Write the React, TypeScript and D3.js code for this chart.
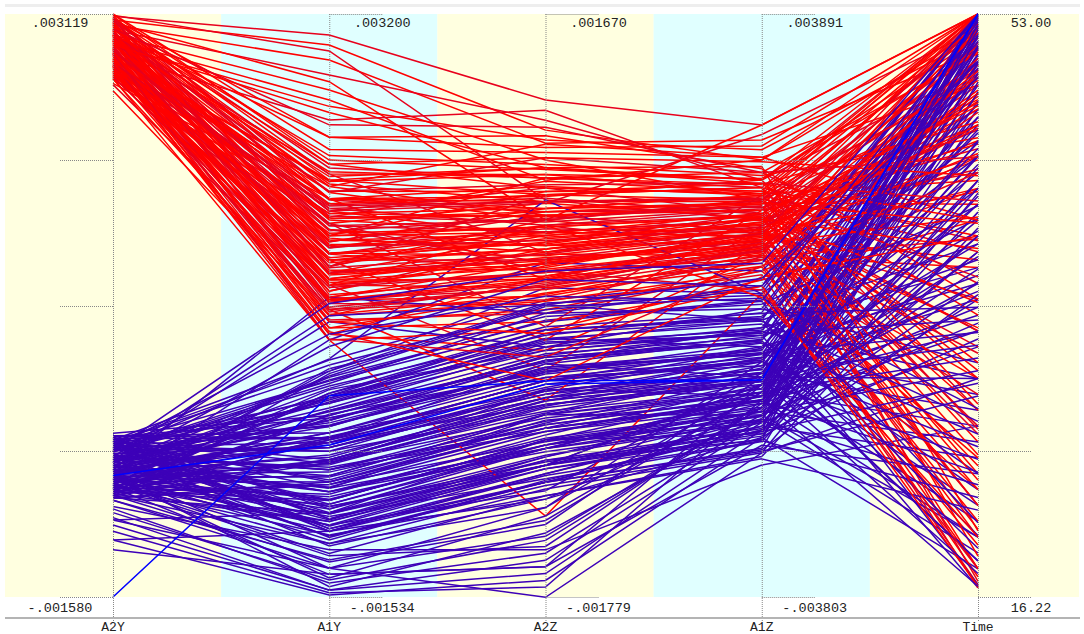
import React from 'react';
import * as d3 from 'd3';

// axis names and their ranges (A-columns in micro-units, Time in seconds)
const dims = ['A2Y', 'A1Y', 'A2Z', 'A1Z', 'Time'];
const dimMin = [-1580, -1534, -1779, -3803, 16.22];
const dimMax = [3119, 3200, 1670, 3891, 53.0];
const topLabels = ['.003119', '.003200', '.001670', '.003891', '53.00'];
const bottomLabels = ['-.001580', '-.001534', '-.001779', '-.003803', '16.22'];

// class 1 (red) records: A2Y, A1Y, A2Z, A1Z, Time
const redRows: number[][] = [
  [3100, 3029, 1161, 2426, 53], [3071, 2948, 983, 1963, 52.0], [3030, 2826, 906, 2228, 50.7],
  [2990, 2705, 1042, 1700, 49.5], [2950, 2583, 806, 1436, 47.6], [2909, 2502, 687, 1963, 53],
  [3110, 2900, 569, 1172, 45.7], [3050, 2650, 450, 908, 43.8], [2869, 2450, 924, 2100, 51.5],
  [2789, 2339, 1100, 1600, 38.7], [3080, 2014, 750, 1700, 53], [3040, 1852, 600, 1436, 52.5],
  [3000, 1690, 500, 1300, 51], [2960, 1527, 380, 1172, 50], [2920, 1365, 300, 1050, 48.5],
  [2880, 1202, 214, 908, 47], [2840, 1040, 100, 780, 46], [2800, 878, 0, 644, 44],
  [2760, 715, -100, 500, 42], [2720, 553, -200, 380, 40], [2680, 1100, 250, 700, 37],
  [2640, 1300, 400, 1000, 35], [2600, 1500, 550, 1200, 33], [2560, 1700, 650, 1500, 30],
  [3060, 1950, 700, 1600, 28], [3020, 1800, 480, 1350, 26], [2980, 1600, 350, 1100, 24],
  [2940, 1450, 200, 900, 22], [2900, 1250, 150, 800, 20], [2860, 1000, 50, 600, 18],
  [2820, 850, -50, 450, 17], [2780, 650, -150, 300, 19.5], [2740, 600, 120, 850, 23],
  [2700, 950, 320, 1250, 27], [2660, 1150, 450, 1450, 31], [2620, 1400, 620, 1650, 34],
  [3090, 1750, 820, 1800, 36], [3010, 1550, 680, 1550, 39], [2970, 1350, 520, 1400, 41],
  [2930, 1150, 420, 1300, 43], [2890, 950, 280, 1150, 45], [2850, 750, 180, 1000, 47.5],
  [2810, 1650, 580, 1250, 49.5], [2770, 1850, 760, 1700, 51.5], [2730, 1250, 380, 950, 52.5],
  [2690, 800, 60, 700, 53], [2650, 700, -80, 550, 50], [2610, 1050, 230, 820, 48],
  [2550, 900, 150, 650, 29], [2500, 750, -30, 500, 25], [2950, 1200, -260, 1300, 46],
  [2850, 1000, -438, 1100, 44], [2750, 800, -615, 900, 42], [2700, 600, -320, 700, 21],
  [2900, 1500, -180, 1500, 38], [2600, 553, -1300, 200, 23], [3000, 1750, 450, 2426, 53],
  [2900, 1600, 550, 2300, 52], [3119, 2100, 850, 2000, 40], [3080, 2200, 950, 1850, 35],
  [2980, 1300, 480, 1020, 32], [2940, 1100, 360, 1180, 28], [2880, 1450, 300, 880, 24.5],
  [2830, 1250, 420, 740, 20.5], [2790, 1050, 260, 1080, 18], [2950, 1700, 560, 1420, 30.5],
  [2870, 1600, 640, 1260, 33], [3030, 1400, 380, 960, 37.5], [3070, 1900, 720, 1520, 42.5],
  [2710, 1350, 500, 1340, 44.5], [2630, 1200, 340, 1120, 47], [2760, 900, 200, 860, 49],
  [2990, 1000, 140, 760, 16.8], [2910, 650, 20, 560, 17.5], [2590, 1580, 470, 1380, 52],
  [3050, 1150, 600, 1600, 53], [2840, 1400, 700, 1800, 50.5], [2690, 1800, 900, 2000, 48.5],
  [2960, 1900, 260, 1200, 26.5], [2800, 1700, 100, 1000, 22],
  [3115, 1980, 640, 1520, 52.8], [3095, 1620, 420, 1240, 51.2], [3075, 1380, 260, 980, 49.8],
  [3055, 1120, 160, 820, 48.2], [3035, 890, 40, 640, 46.8], [3015, 2050, 780, 1760, 45.2],
  [2995, 1820, 560, 1480, 53], [2975, 1560, 440, 1320, 52.2], [2955, 1330, 300, 1120, 50.8],
  [2935, 1080, 190, 940, 49.2], [2915, 860, 80, 760, 47.8], [2895, 1920, 700, 1640, 46.2],
  [2875, 1700, 520, 1380, 44.8], [2855, 1480, 380, 1180, 43.2], [2835, 1260, 240, 1000, 41.8],
  [2815, 1020, 120, 860, 40.2], [2795, 800, -20, 680, 38.8], [2775, 1760, 620, 1560, 53],
  [2755, 1540, 480, 1300, 52.4], [2735, 1310, 330, 1080, 51], [2715, 1090, 210, 920, 49.4],
  [2695, 870, 90, 740, 48], [2675, 1640, 560, 1460, 36.4], [2655, 1420, 410, 1220, 34.8],
  [2635, 1200, 280, 1040, 33.2], [2615, 980, 140, 880, 31.6], [2595, 760, 10, 720, 30],
  [3105, 1700, 590, 1700, 28.4], [3065, 1480, 450, 1430, 26.8], [3025, 1260, 310, 1210, 25.2],
  [2985, 1040, 170, 1010, 23.6], [2945, 820, 60, 830, 22], [2905, 1880, 760, 1880, 20.4],
  [2865, 1660, 600, 1600, 18.8], [2825, 1440, 460, 1360, 17.2], [2785, 1220, 320, 1140, 53],
  [2745, 1000, 200, 960, 51.8], [2705, 780, 70, 780, 50.2], [2665, 1580, 520, 1500, 48.8],
  [2625, 1360, 370, 1260, 47.2], [3085, 1140, 250, 1060, 45.8], [3045, 920, 110, 900, 44.2],
  [3005, 1980, 820, 1940, 42.8], [2965, 1760, 660, 1660, 41.2], [2925, 1540, 500, 1400, 39.8],
  [2885, 1320, 360, 1180, 38.2], [2845, 1100, 220, 990, 53], [2805, 880, 100, 800, 52],
  [2765, 1840, 720, 1720, 50.6], [2725, 1620, 560, 1450, 49], [2685, 1400, 410, 1230, 47.4],
  [2645, 1180, 280, 1050, 46], [3000, 2300, 1000, 1800, 44], [2950, 2200, 880, 2150, 53],
  [2870, 2400, 760, 1650, 40], [2800, 560, -360, 560, 43], [2740, 620, -500, 420, 39],
  [2900, 700, -220, 300, 16.9], [2830, 1500, 150, 250, 18], [2660, 1000, 420, 150, 20],
];

// class 2 (blue) records
const blueRows: number[][] = [
  [-315, 390, -23, 380, 53], [-395, 228, -142, 116, 52.5], [-476, 66, -260, -149, 52],
  [-556, -97, -378, -412, 51.5], [-637, -259, -497, -676, 51], [-718, -422, -615, -940, 50.5],
  [-350, -584, -734, -1204, 50], [-430, -746, -852, -1468, 49.5], [-510, -909, -970, -1732, 53],
  [-590, -1071, -1089, -1600, 52.8], [-670, 150, -320, -300, 52.2], [-750, -50, -450, -550, 51.8],
  [-280, -200, -560, -800, 51.2], [-360, -350, -680, -1050, 50.8], [-440, -500, -800, -1300, 53],
  [-520, -650, -900, -1150, 49], [-600, -800, -1000, -1000, 48], [-680, -950, -1150, -850, 47],
  [-760, -1100, -1250, -700, 46], [-330, 300, 50, 200, 45], [-410, 100, -200, -100, 44],
  [-490, -150, -400, -400, 43], [-570, -400, -600, -650, 42], [-650, -600, -750, -900, 41],
  [-730, -780, -880, -1200, 40], [-300, -900, -1000, -1400, 39], [-380, -1000, -1100, -1600, 38],
  [-460, 0, -300, -250, 37], [-540, -250, -500, -500, 36], [-620, -450, -650, -750, 35],
  [-700, -700, -820, -1000, 34], [-780, -850, -950, -1250, 33], [-320, -1000, -1050, -1500, 32],
  [-400, 200, -100, 0, 31], [-480, -100, -350, -300, 30], [-560, -300, -550, -600, 29],
  [-640, -550, -700, -850, 28], [-720, -750, -850, -1100, 27], [-340, -900, -950, -1350, 26],
  [-420, -1050, -1100, -1550, 25], [-500, 50, -250, -200, 24], [-580, -200, -450, -450, 23],
  [-660, -420, -620, -700, 22], [-740, -620, -780, -950, 21], [-290, -820, -900, -1200, 20],
  [-370, -980, -1050, -1450, 19], [-450, -1120, -1200, -1700, 18], [-530, 250, -150, 100, 17],
  [-610, -20, -380, -350, 16.8], [-690, -280, -580, -650, 18.5], [-800, -1234, -1326, -1100, 44],
  [-900, -1396, -1444, -1300, 41], [-1000, -1477, -1562, -1500, 38], [-1121, -1517, -1681, -1700, 35],
  [-959, -1300, -1781, -1900, 30], [-850, -1150, -1500, -2062, 27], [-700, -1350, -1600, -1800, 24],
  [-600, -1450, -1400, -1400, 20], [-1121, -1000, -1200, -1300, 47], [-959, -850, -1000, -1000, 52],
  [-556, 900, -100, 300, 53], [-476, 700, -300, 0, 52], [-640, 553, 200, 500, 50],
  [-400, 400, 569, 200, 53], [-310, -150, -420, -600, 49.8], [-390, -350, -560, -850, 49.2],
  [-470, -550, -700, -1100, 48.5], [-550, -750, -850, -1350, 47.5], [-630, -950, -1000, -1550, 46.5],
  [-710, 120, -250, -500, 45.5], [-290, -80, -480, -750, 44.5], [-370, -280, -640, -1000, 43.5],
  [-450, -480, -780, -1250, 42.5], [-530, -680, -920, -1500, 41.5], [-610, -880, -1080, -1750, 40.5],
  [-690, -1030, -1180, -1950, 39.5], [-770, 280, -50, -150, 38.5], [-350, 80, -270, -350, 37.5],
  [-430, -120, -430, -600, 36.5], [-510, -320, -600, -900, 35.5], [-590, -520, -760, -1150, 34.5],
  [-670, -720, -900, -1400, 33.5], [-750, -920, -1020, -1650, 32.5], [-330, 350, -80, 250, 53],
  [-410, 180, -230, -50, 52.6], [-490, -30, -390, -250, 51.6], [-570, -230, -540, -520, 50.2],
  [-650, -430, -690, -780, 49.6],
  [-260, -60, -360, -420, 53], [-285, -240, -500, -700, 52.9], [-305, -420, -640, -960, 52.7],
  [-325, -600, -780, -1220, 52.4], [-345, -780, -900, -1480, 52.1], [-365, -960, -1020, -1720, 51.7],
  [-385, 40, -280, -280, 51.3], [-405, -140, -420, -540, 50.9], [-425, -320, -560, -800, 50.4],
  [-445, -500, -700, -1060, 49.9], [-465, -680, -840, -1320, 49.3], [-485, -860, -970, -1580, 48.7],
  [-505, -1040, -1100, -1840, 48.1], [-525, 160, -200, -120, 47.3], [-545, -20, -340, -380, 46.5],
  [-565, -200, -480, -640, 45.7], [-585, -380, -620, -900, 44.9], [-605, -560, -760, -1160, 44.1],
  [-625, -740, -880, -1420, 43.3], [-645, -920, -1000, -1680, 42.5], [-665, -1100, -1140, -1900, 41.7],
  [-685, 320, -120, 60, 40.9], [-705, 100, -300, -320, 40.1], [-725, -80, -440, -580, 39.3],
  [-745, -260, -580, -840, 38.5], [-765, -440, -720, -1100, 37.7], [-785, -620, -860, -1360, 36.9],
  [-300, -800, -980, -1620, 36.1], [-320, -980, -1100, -1860, 35.3], [-340, 220, -180, -60, 34.5],
  [-360, 40, -320, -320, 33.7], [-380, -140, -460, -580, 32.9], [-400, -320, -600, -840, 32.1],
  [-420, -500, -740, -1100, 31.3], [-440, -680, -880, -1360, 30.5], [-460, -860, -1000, -1620, 29.7],
  [-480, -1040, -1120, -1880, 28.9], [-500, 260, -60, 140, 28.1], [-520, 80, -220, -160, 27.3],
  [-540, -100, -380, -440, 26.5], [-560, -280, -520, -700, 25.7], [-580, -460, -660, -960, 24.9],
  [-600, -640, -800, -1220, 24.1], [-620, -820, -940, -1480, 23.3], [-640, -1000, -1060, -1740, 22.5],
  [-660, -1180, -1180, -1980, 21.7], [-680, 300, -40, 180, 20.9], [-700, 120, -200, -140, 20.1],
  [-720, -60, -360, -420, 19.3], [-740, -240, -500, -680, 18.5], [-760, -420, -640, -940, 17.7],
  [-780, -600, -780, -1200, 16.9], [-800, -1300, -1420, -1300, 45], [-870, -1420, -1520, -1450, 42],
  [-940, -1480, -1640, -1600, 39], [-1050, -1500, -1720, -1200, 36], [-1200, -1350, -1600, -1000, 33],
  [-760, -1250, -1350, -900, 30], [-680, -1200, -1480, -1250, 53], [-620, -1380, -1300, -1100, 52],
  [-560, -1300, -1250, -1000, 51], [-500, 500, 100, 300, 50], [-450, 750, -50, 400, 49],
  [-400, 850, 150, 600, 53], [-380, 600, 0, 100, 52.5], [-300, -250, -400, -900, 53],
  [-330, -450, -550, -1150, 52.3], [-350, -650, -700, -1400, 51.6], [-370, -850, -850, -1650, 50.9],
];

// a couple of bright blue records
const brightBlueRows: number[][] = [
  [-1580, 100, -500, -940, 53],
  [-600, -300, -520, -940, 53],
];

const W = 1084;
const H = 634;
const TOP = 14;
const BOTTOM = 597;
const TICK = 53;
const FONT = '"Liberation Mono", "Courier New", monospace';

const App: React.FC = () => {
  const x = d3.scalePoint<string>().domain(dims).range([113, 978]);
  const ys = dims.map((_, i) =>
    d3.scaleLinear().domain([dimMin[i], dimMax[i]]).range([BOTTOM, TOP])
  );
  const line = d3.line<number>()
    .x((_, i) => x(dims[i])!)
    .y((v, i) => ys[i](v));

  // interleave the two classes so neither sits fully on top
  const records: { row: number[]; color: string }[] = [];
  const n = Math.max(redRows.length, blueRows.length);
  for (let i = 0; i < n; i++) {
    if (blueRows[i]) records.push({ row: blueRows[i], color: '#3d00b8' });
    if (redRows[i]) records.push({ row: redRows[i], color: i % 3 === 0 ? '#e8001c' : '#ff0000' });
  }
  brightBlueRows.forEach(r => records.push({ row: r, color: '#0000ff' }));

  const step = x.step();
  const bandColors = ['#ffffe0', '#e0ffff'];
  const ticks = d3.range(5).map(k => TOP + (k * (BOTTOM - TOP)) / 4);

  return (
    <div style={{ position: 'absolute', left: 0, top: 0 }}>
      <svg width={W} height={H} style={{ display: 'block', background: '#fff' }}>
        <rect x={5} y={4} width={1075} height={3} fill="#eeeeee" />
        {dims.map((d, i) => {
          const x0 = Math.max(5, x(d)! - step / 2);
          const x1 = Math.min(1079, x(d)! + step / 2);
          return (
            <rect key={d} x={x0} y={TOP} width={x1 - x0} height={BOTTOM - TOP}
              fill={bandColors[i % 2]} />
          );
        })}
        <g fill="none" strokeWidth={1.5}>
          {records.map((r, i) => (
            <path key={i} d={line(r.row)!} stroke={r.color} />
          ))}
        </g>
        {dims.map((d, i) => {
          const ax = x(d)!;
          const dir = i === 0 ? -1 : 1;
          return (
            <g key={d} stroke="#888" strokeWidth={1} strokeDasharray="1,1">
              <line x1={ax + 0.5} x2={ax + 0.5} y1={TOP} y2={621} />
              {ticks.map(t => (
                <line key={t} x1={ax} x2={ax + dir * TICK} y1={Math.round(t) + 0.5} y2={Math.round(t) + 0.5} />
              ))}
            </g>
          );
        })}
        <rect x={5} y={617} width={1075} height={2} fill="#b4b4b4" />
        {dims.map((d, i) => {
          const ax = x(d)!;
          const lx = i === 0 ? ax - TICK : ax + TICK;
          return (
            <g key={d} fontFamily={FONT} fontSize={13.5} fill="#222">
              <text x={lx} y={27} textAnchor="middle">{topLabels[i]}</text>
              <text x={lx} y={612} textAnchor="middle">{bottomLabels[i]}</text>
              <text x={ax} y={631} fontSize={13} textAnchor="middle">{d}</text>
            </g>
          );
        })}
      </svg>
    </div>
  );
};

export default App;
